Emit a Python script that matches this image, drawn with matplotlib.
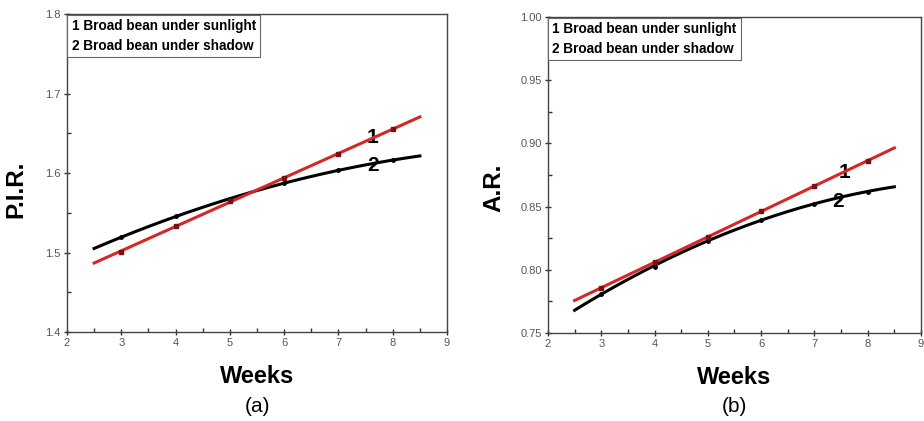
import numpy as np
from matplotlib import pyplot as plt
from matplotlib.ticker import MultipleLocator

plt.rcParams['font.family'] = ['Liberation Sans', 'DejaVu Sans']

# growth weeks and measured ratios
weeks = [3, 4, 5, 6, 7, 8]
pir_sun = [1.501, 1.533, 1.565, 1.594, 1.624, 1.655]
pir_shadow = [1.519, 1.546, 1.567, 1.587, 1.604, 1.616]
ar_sun = [0.7855, 0.806, 0.826, 0.8468, 0.8663, 0.886]
ar_shadow = [0.781, 0.8026, 0.823, 0.8395, 0.8524, 0.8618]
legend_lines = ['1 Broad bean under sunlight', '2 Broad bean under shadow']

xfit = np.linspace(2.5, 8.5, 100)

def panel(ax, sun, shadow, ylim, ymaj, ylab, fmt, tag, lab1, lab2, ylabpos):
    w = np.array(weeks)
    # sunlight: linear fit, shadow: quadratic fit
    p1 = np.polyfit(w, sun, 1)
    p2 = np.polyfit(w, shadow, 2)
    ax.plot(xfit, np.polyval(p2, xfit), color='black', lw=2.2, zorder=2)
    ax.plot(w, shadow, 'o', color='black', ms=2.5, zorder=3)
    ax.plot(xfit, np.polyval(p1, xfit), color='#d42828', lw=2.2, zorder=4)
    ax.plot(w, sun, 's', color='#7a1010', ms=2.2, zorder=5)
    ax.set_xlim(2, 9); ax.set_ylim(*ylim)
    ax.xaxis.set_major_locator(MultipleLocator(1))
    ax.xaxis.set_minor_locator(MultipleLocator(0.5))
    ax.yaxis.set_major_locator(MultipleLocator(ymaj))
    ax.yaxis.set_minor_locator(MultipleLocator(ymaj/2))
    ax.yaxis.set_major_formatter(plt.FormatStrFormatter(fmt))
    ax.tick_params(which='major', direction='inout', length=5, width=1,
                   labelsize=8, labelcolor='#555555', color='#333333', pad=2)
    ax.tick_params(which='minor', direction='in', length=3, width=1, color='#333333')
    for s in ax.spines.values():
        s.set_color('#444444'); s.set_linewidth(1)
    ax.set_ylabel(ylab, fontsize=17.5, fontweight='bold')
    ax.yaxis.set_label_coords(*ylabpos)
    ax.set_xlabel('Weeks', fontsize=17, fontweight='bold', labelpad=12)
    ax.text(lab1[0], lab1[1], '1', fontsize=15, fontweight='bold', ha='center', va='center')
    ax.text(lab2[0], lab2[1], '2', fontsize=15, fontweight='bold', ha='center', va='center')
    ax.text(0.012, 0.985, '\n'.join(legend_lines), transform=ax.transAxes, ha='left',
            va='top', fontsize=9.8, fontweight='bold', linespacing=1.6,
            bbox=dict(boxstyle='square,pad=0.3', fc='white', ec='#666666', lw=0.8))
    bb = ax.get_position()
    fig.text((bb.x0 + bb.x1)/2, 0.035, tag, ha='center', va='center', fontsize=15)

fig = plt.figure(figsize=(9.24, 4.21), dpi=100)
ax1 = fig.add_axes([0.0725, 0.2114, 0.4113, 0.7553])
ax2 = fig.add_axes([0.593, 0.209, 0.4038, 0.7506])
panel(ax1, pir_sun, pir_shadow, (1.4, 1.8), 0.1, 'P.I.R.', '%.1f', '(a)',
      (7.62, 1.645), (7.64, 1.610), (-0.105, 0.45))
panel(ax2, ar_sun, ar_shadow, (0.75, 1.0), 0.05, 'A.R.', '%.2f', '(b)',
      (7.57, 0.8766), (7.44, 0.854), (-0.113, 0.46))
plt.savefig('out.png', dpi=100)
